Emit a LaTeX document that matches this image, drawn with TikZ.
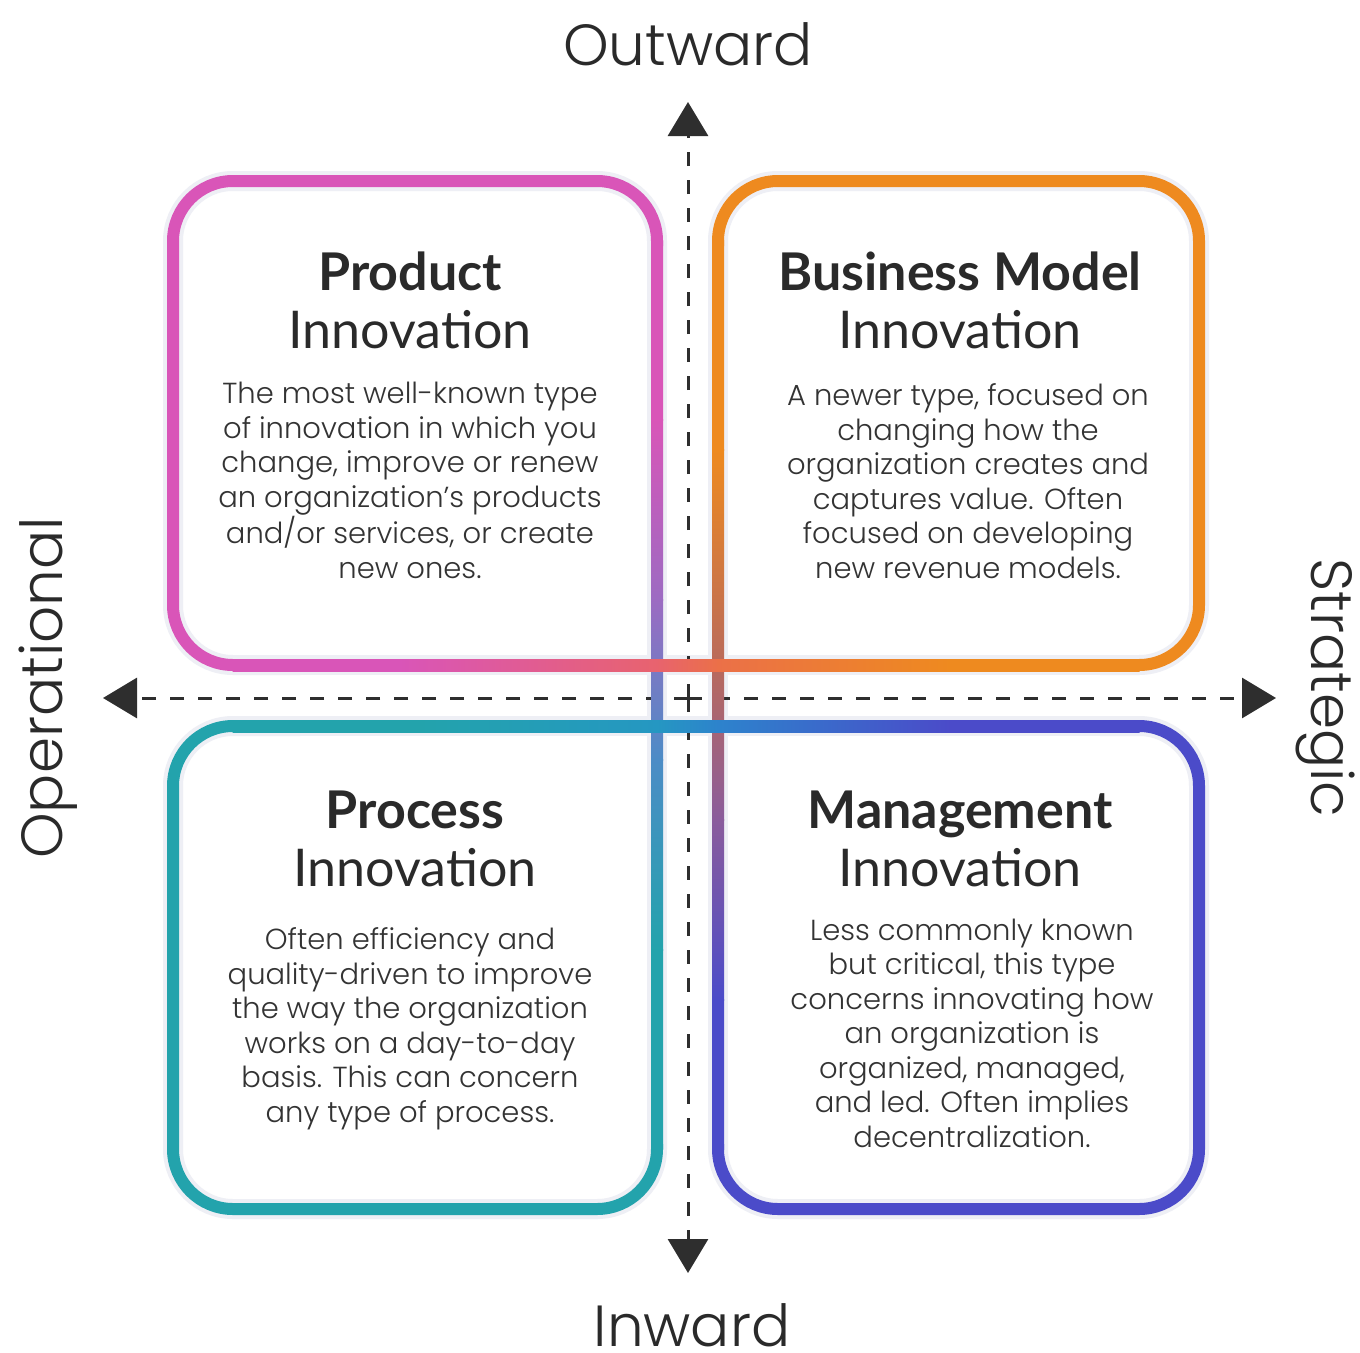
\documentclass[tikz,border=0pt]{standalone}
\usepackage{fontspec}
\setmainfont{Poppins}
\newfontfamily\headfont{Lato}
\newfontfamily\bodyfont{Poppins}[UprightFont={* Light}]
\usetikzlibrary{arrows.meta}
\definecolor{pinkc}{HTML}{D955B8}
\definecolor{orangec}{HTML}{EE8A1F}
\definecolor{tealc}{HTML}{23A3AC}
\definecolor{bluec}{HTML}{4B4BC9}
\definecolor{coralA}{HTML}{E8636E}
\definecolor{coralB}{HTML}{EB7048}
\definecolor{purpA}{HTML}{9C6BC2}
\definecolor{bluA}{HTML}{4C8CC6}
\definecolor{brownA}{HTML}{B96A5C}
\definecolor{purpB}{HTML}{8A5C9C}
\definecolor{tbA}{HTML}{2597C2}
\definecolor{tbB}{HTML}{2D83CC}
\definecolor{glowc}{HTML}{EEEFF5}
\definecolor{axisc}{HTML}{2E2E2E}
\definecolor{headc}{HTML}{2A2A2A}
\definecolor{bodyc}{HTML}{333333}
\newcommand\myhseg[5]{\shade[left color=#4,right color=#5] ({#1-0.5},{#3-6}) rectangle ({#2+0.5},{#3+6});}
\newcommand\myvseg[5]{\shade[top color=#4,bottom color=#5] ({#3-6},{#1-0.5}) rectangle ({#3+6},{#2+0.5});}
\begin{document}
\begin{tikzpicture}[x=1pt,y=-1pt,
  boxline/.style={line width=12pt, rounded corners=60pt},
  glowline/.style={draw=glowc, line width=20pt, rounded corners=60pt},
  axisline/.style={draw=axisc, line width=3pt, dash pattern=on 14pt off 14pt, -{Triangle[length=34pt,width=40pt]}},
  titletext/.style={font=\headfont\fontsize{52}{58}\selectfont, text=headc, align=center, inner sep=0pt, anchor=base},
  bodytext/.style={font=\bodyfont\fontsize{29}{34.5}\selectfont, text=bodyc, align=center, inner sep=0pt, anchor=base},
  axistext/.style={font=\bodyfont\fontsize{58}{60}\selectfont, text=headc, inner sep=0pt, anchor=base}]
\fill[white] (0,0) rectangle (1360,1352);
\useasboundingbox (0,0) rectangle (1360,1352);

% glow
\draw[glowline] (657,300) -- (657,181) -- (173,181) -- (173,665) -- (300,665);
\draw[glowline] (718,300) -- (718,181) -- (1199,181) -- (1199,665) -- (1100,665);
\draw[glowline] (300,726) -- (173,726) -- (173,1209) -- (657,1209) -- (657,1100);
\draw[glowline] (1100,726) -- (1199,726) -- (1199,1209) -- (718,1209) -- (718,1100);
\draw[glowline] (657,250) -- (657,1150);
\draw[glowline] (718,250) -- (718,1150);
\draw[glowline] (240,665) -- (1140,665);
\draw[glowline] (240,726) -- (1140,726);

% axes
\coordinate (ctr) at (688,698);
\coordinate (tipN) at (688,102);
\coordinate (tipS) at (688,1273);
\coordinate (tipW) at (103,698);
\coordinate (tipE) at (1276,698);
\draw[axisline] (ctr) -- (tipN);
\draw[axisline] (ctr) -- (tipS);
\draw[axisline] (ctr) -- (tipW);
\draw[axisline] (ctr) -- (tipE);

% box corners
\draw[boxline, draw=pinkc] (657,246) -- (657,181) -- (173,181) -- (173,665) -- (238,665);
\draw[boxline, draw=orangec] (718,246) -- (718,181) -- (1199,181) -- (1199,665) -- (1134,665);
\draw[boxline, draw=tealc] (238,726) -- (173,726) -- (173,1209) -- (657,1209) -- (657,1144);
\draw[boxline, draw=bluec] (1134,726) -- (1199,726) -- (1199,1209) -- (718,1209) -- (718,1144);

% vertical gradient lines
\myvseg{241}{420}{657}{pinkc}{pinkc}
\myvseg{420}{600}{657}{pinkc}{purpA}
\myvseg{600}{760}{657}{purpA}{bluA}
\myvseg{760}{950}{657}{bluA}{tealc}
\myvseg{950}{1149}{657}{tealc}{tealc}
\myvseg{241}{450}{718}{orangec}{orangec}
\myvseg{450}{665}{718}{orangec}{brownA}
\myvseg{665}{820}{718}{brownA}{purpB}
\myvseg{820}{1000}{718}{purpB}{bluec}
\myvseg{1000}{1149}{718}{bluec}{bluec}

% horizontal gradient lines
\myhseg{233}{400}{665}{pinkc}{pinkc}
\myhseg{400}{657}{665}{pinkc}{coralA}
\myhseg{657}{718}{665}{coralA}{coralB}
\myhseg{718}{950}{665}{coralB}{orangec}
\myhseg{950}{1139}{665}{orangec}{orangec}
\myhseg{233}{420}{726}{tealc}{tealc}
\myhseg{420}{657}{726}{tealc}{tbA}
\myhseg{657}{718}{726}{tbA}{tbB}
\myhseg{718}{950}{726}{tbB}{bluec}
\myhseg{950}{1139}{726}{bluec}{bluec}

% titles (anchor base = last line baseline)
\node[titletext] (t1) at (410,348) {\textbf{Product}\\Innovation};
\node[titletext] (t2) at (960,348) {\textbf{Business Model}\\Innovation};
\node[titletext] (t3) at (415,886) {\textbf{Process}\\Innovation};
\node[titletext] (t4) at (960,886) {\textbf{Management}\\Innovation};

% bodies
\node[bodytext] (b1) at (410,578) {The most well-known type\\of innovation in which you\\change, improve or renew\\an organization’s products\\and/or services, or create\\new ones.};
\node[bodytext] (b2) at (968,578) {A newer type, focused on\\changing how the\\organization creates and\\captures value. Often\\focused on developing\\new revenue models.};
\node[bodytext] (b3) at (410,1122) {Often efficiency and\\quality-driven to improve\\the way the organization\\works on a day-to-day\\basis. This can concern\\any type of process.};
\node[bodytext] (b4) at (972,1147) {Less commonly known\\but critical, this type\\concerns innovating how\\an organization is\\organized, managed,\\and led. Often implies\\decentralization.};

% axis labels
\node[axistext] (lo) at (688,65) {Outward};
\node[axistext] (li) at (692,1346) {Inward};
\node[axistext, rotate=90] (lop) at (62,688) {Operational};
\node[axistext, rotate=-90] (lst) at (1311,688) {Strategic};
\end{tikzpicture}
\end{document}
